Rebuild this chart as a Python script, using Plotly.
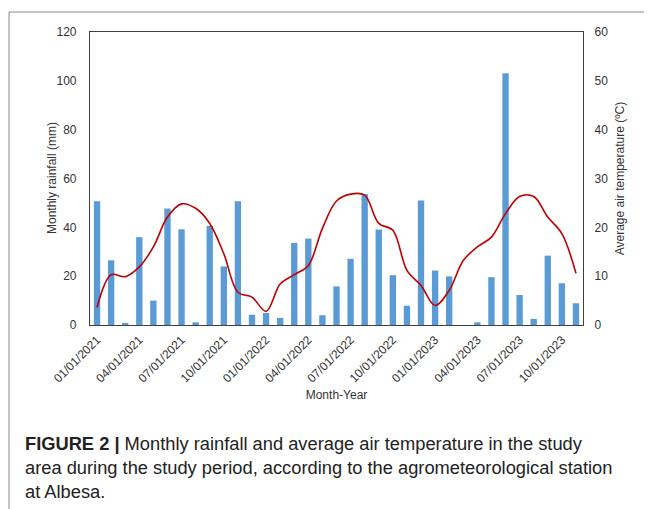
import plotly.graph_objects as go

months = [f"{m:02d}/01/{y}" for y in (2021, 2022, 2023) for m in range(1, 13)][:35]
rainfall = [50.7, 26.5, 0.5, 36.0, 10.0, 47.7, 39.2, 1.1, 40.6, 24.0, 50.7, 4.2,
            4.9, 2.9, 33.6, 35.4, 4.0, 15.8, 27.1, 53.7, 39.1, 20.4, 7.9, 51.0,
            22.3, 19.9, 0.0, 1.1, 19.6, 103.1, 12.3, 2.5, 28.4, 17.1, 8.9]
temperature = [3.6, 10.3, 9.9, 11.9, 16.0, 22.1, 24.8, 23.9, 20.8, 14.6, 6.7, 5.7,
               2.8, 8.4, 10.3, 12.2, 19.8, 25.4, 26.8, 26.6, 20.8, 19.4, 11.2, 8.1,
               4.0, 7.1, 13.2, 16.0, 18.0, 22.8, 26.3, 26.3, 22.1, 18.7, 10.6]
tick_labels = months[::3]

caption_lines = [
    "<b>FIGURE 2 |</b> Monthly rainfall and average air temperature in the study",
    "area during the study period, according to the agrometeorological station",
    "at Albesa.",
]

W, H = 652, 509
OFF = 8  # page body margin
L, R, T, B = 90 - OFF, W - 583 + OFF, 32 - OFF, H - 325 + OFF

fig = go.Figure()
fig.add_trace(go.Bar(x=months, y=rainfall, marker_color="#5B9BD5",
                     marker_line_width=0, name="Rainfall", yaxis="y"))
fig.add_trace(go.Scatter(x=months, y=temperature, mode="lines",
                         line=dict(color="#C00000", width=1.6, shape="spline", smoothing=1.0),
                         name="Temperature", yaxis="y2"))

axis_font = dict(family="Arial, Liberation Sans, sans-serif", size=12, color="#333333")

fig.update_layout(
    width=W, height=H,
    margin=dict(l=L, r=R, t=T, b=B),
    paper_bgcolor="white", plot_bgcolor="white",
    showlegend=False,
    bargap=0.55,
    font=axis_font,
    xaxis=dict(type="category", tickmode="array", tickvals=tick_labels, ticktext=tick_labels,
               tickangle=-45, showgrid=False, showline=True, linecolor="#404040", linewidth=1.2,
               mirror=True, ticks="", tickfont=axis_font, automargin=False, ticklabelstandoff=2,
               title=dict(text="Month-Year", font=axis_font, standoff=6)),
    yaxis=dict(range=[0, 120], dtick=20, showgrid=False, showline=True, linecolor="#404040",
               linewidth=1.2, ticks="", tickfont=axis_font, zeroline=False, automargin=False,
               ticklabelstandoff=10),
    yaxis2=dict(range=[0, 60], dtick=10, overlaying="y", side="right", showgrid=False,
                showline=True, linecolor="#404040", linewidth=1.2, ticks="", tickfont=axis_font,
                zeroline=False, automargin=False, ticklabelstandoff=8,
                title=dict(text="Average air temperature (ºC)", font=axis_font, standoff=8)),
)

px_w, px_h = W - L - R, H - T - B
def px(xp):
    return (xp - OFF - L) / px_w
def py(yp):
    return (H - B - (yp - OFF)) / px_h

fig.add_annotation(text="Monthly rainfall (mm)", xref="paper", yref="paper",
                   x=px(52), y=py(178), textangle=-90, xanchor="center", yanchor="middle",
                   showarrow=False, font=axis_font)

fig.add_shape(type="line", xref="paper", yref="paper", x0=px(9), x1=px(660), y0=py(12), y1=py(12),
              line=dict(color="#8a8a8a", width=1))
fig.add_shape(type="line", xref="paper", yref="paper", x0=px(9), x1=px(9), y0=py(12), y1=py(520),
              line=dict(color="#8a8a8a", width=1))

cap_font = dict(family="Arial, Liberation Sans, sans-serif", size=18.3, color="#222222")
for i, line in enumerate(caption_lines):
    fig.add_annotation(text=line, xref="paper", yref="paper", x=px(23), y=py(443 + 24 * i),
                       xanchor="left", yanchor="middle", showarrow=False, font=cap_font)

fig.write_html("out.html")
